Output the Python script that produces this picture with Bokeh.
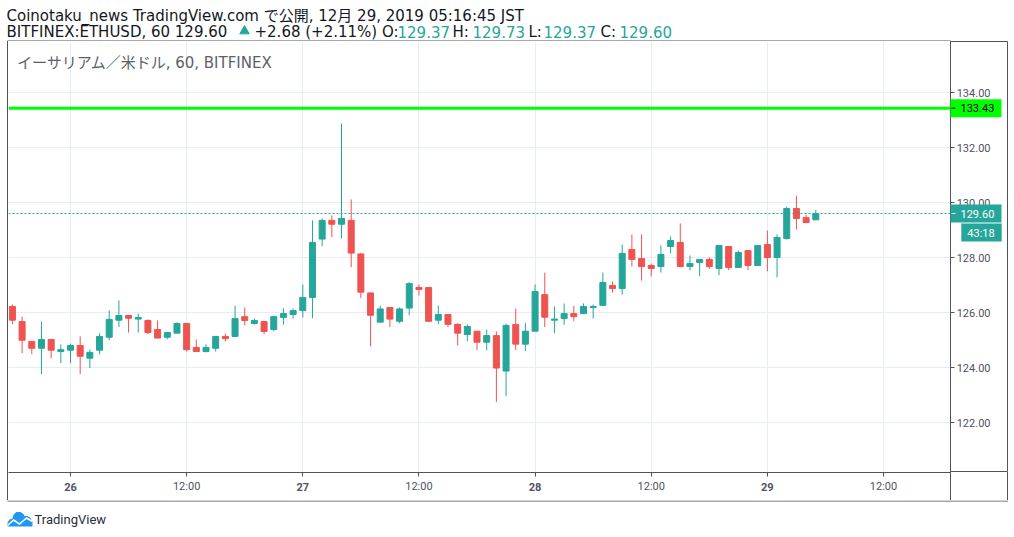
import pandas as pd
from bokeh.plotting import figure
from bokeh.layouts import column, row
from bokeh.models import (ColumnDataSource, Range1d, FixedTicker, PrintfTickFormatter,
                          Span, Label, Spacer, Grid, DatetimeAxis)
from bokeh.core.properties import value
from bokeh.embed import file_html
from bokeh.resources import INLINE

# ---------------- data (hourly ETH/USD candles, Bitfinex) ----------------
start_time = "2019-12-25 18:00"
opens = [126.22, 125.67, 124.95, 124.70, 125.02, 124.58, 124.63, 124.80, 124.34, 124.63,
         125.10, 125.72, 125.89, 125.76, 125.71, 125.38, 125.10, 125.25, 125.60, 124.73,
         124.58, 124.70, 125.13, 125.13, 125.85, 125.60, 125.67, 125.38, 125.82, 125.93,
         126.07, 126.55, 128.67, 129.35, 129.21, 129.35, 128.13, 126.71, 125.65, 126.18,
         125.68, 126.16, 126.91, 126.91, 125.72, 125.93, 125.57, 125.20, 125.32, 124.92,
         125.16, 123.87, 125.56, 124.85, 125.32, 126.65, 125.72, 125.78, 125.96, 125.96,
         126.18, 126.26, 126.98, 126.87, 128.29, 127.96, 127.71, 127.67, 128.40, 128.55,
         127.67, 127.82, 127.93, 127.60, 128.40, 127.64, 128.25, 127.71, 128.47, 128.00,
         128.69, 129.78, 129.45, 129.37]
highs = [126.29, 125.85, 124.95, 125.67, 125.02, 124.84, 124.87, 125.13, 124.65, 125.24,
         126.07, 126.44, 125.89, 125.96, 125.75, 125.71, 125.27, 125.64, 125.60, 125.02,
         124.84, 125.13, 125.24, 126.25, 126.18, 125.78, 125.67, 125.89, 126.15, 126.15,
         127.02, 129.35, 129.42, 129.53, 132.87, 130.11, 128.16, 126.74, 126.25, 126.18,
         126.18, 127.10, 127.02, 126.91, 126.25, 125.93, 125.61, 125.57, 125.32, 125.38,
         125.31, 125.60, 126.14, 125.61, 127.02, 127.45, 126.22, 126.33, 126.24, 126.33,
         126.29, 127.45, 127.13, 128.47, 128.84, 128.84, 127.78, 128.44, 128.76, 129.24,
         128.07, 127.93, 128.00, 128.44, 128.40, 128.25, 128.25, 128.44, 128.98, 128.84,
         129.85, 130.25, 129.56, 129.73]
lows = [125.58, 124.52, 124.48, 123.76, 124.34, 124.16, 124.16, 123.76, 123.98, 124.48,
        124.99, 125.47, 125.27, 125.27, 125.21, 125.07, 125.03, 125.25, 124.58, 124.58,
        124.55, 124.58, 124.95, 125.13, 125.53, 125.56, 125.21, 125.32, 125.56, 125.78,
        125.82, 125.79, 128.41, 128.74, 128.70, 127.65, 126.52, 124.77, 125.65, 125.47,
        125.61, 125.90, 126.62, 125.68, 125.57, 125.47, 124.80, 124.96, 124.63, 124.63,
        122.74, 122.96, 124.63, 124.60, 125.32, 125.47, 125.25, 125.55, 125.68, 125.96,
        125.78, 126.26, 126.73, 126.65, 127.67, 127.16, 127.31, 127.45, 128.15, 127.64,
        127.53, 127.32, 127.58, 127.36, 127.54, 127.64, 127.54, 127.71, 127.50, 127.28,
        128.65, 129.02, 129.25, 129.37]
closes = [125.72, 124.99, 124.70, 125.02, 124.63, 124.65, 124.80, 124.41, 124.55, 125.13,
          125.75, 125.89, 125.79, 125.82, 125.27, 125.07, 125.27, 125.60, 124.65, 124.58,
          124.73, 125.13, 125.05, 125.78, 125.71, 125.71, 125.31, 125.85, 125.96, 126.07,
          126.55, 128.55, 129.35, 129.21, 129.42, 128.16, 126.74, 125.90, 126.13, 125.76,
          126.13, 127.05, 126.84, 125.68, 125.93, 125.57, 125.25, 125.49, 124.92, 125.16,
          123.98, 125.53, 124.85, 125.32, 126.76, 125.83, 125.76, 125.96, 125.85, 126.22,
          126.22, 127.09, 126.87, 128.15, 127.93, 127.67, 127.60, 128.11, 128.62, 127.67,
          127.78, 127.93, 127.67, 128.44, 127.64, 128.18, 127.71, 128.44, 128.00, 128.73,
          129.78, 129.42, 129.27, 129.60]

price_ticks = [122, 124, 126, 128, 130, 132, 134]
time_ticks = ["2019-12-26 00:00", "2019-12-26 12:00", "2019-12-27 00:00", "2019-12-27 12:00",
              "2019-12-28 00:00", "2019-12-28 12:00", "2019-12-29 00:00", "2019-12-29 12:00"]
time_tick_labels = ["26", "12:00", "27", "12:00", "28", "12:00", "29", "12:00"]
alert_level = 133.43
last_price = 129.60
countdown = "43:18"

header_line1 = "Coinotaku_news TradingView.com で公開, 12月 29, 2019 05:16:45 JST"
header_parts = ["BITFINEX:ETHUSD, 60 129.60", "+2.68 (+2.11%) O:", "129.37", "H:", "129.73",
                "L:", "129.37", "C:", "129.60"]
header_kinds = ["dark", "dark", "up", "dark", "up", "dark", "up", "dark", "up"]
chart_title = "イーサリアム／米ドル, 60, BITFINEX"
brand = "TradingView"

# ---------------- styling ----------------
UP = "#26a69a"
DOWN = "#ef5350"
AXIS = "#50535e"
GRID = "#e6edf3"
DARK = "#131722"
ALERT = "#00ff00"
FONT = "Roboto, 'Noto Sans CJK JP', sans-serif"
HFONT = "'DejaVu Sans', 'Noto Sans CJK JP', sans-serif"
PAGE_W = 1008


def strip(height, y_top_page):
    f = figure(width=PAGE_W, height=height, x_range=Range1d(0, PAGE_W),
               y_range=Range1d(y_top_page + height, y_top_page),
               x_axis_location=None, y_axis_location=None, output_backend="svg",
               toolbar_location=None, min_border=0, title=None, outline_line_color=None)
    f.grid.visible = False
    return f


def vline(h):
    return Spacer(width=1, height=h, styles={"background-color": AXIS})


# ---------------- header strip (page y 0..41) ----------------
hd = strip(41, 0)
hd.text(x=[6], y=[15.5], text=[header_line1], text_color=DARK, text_font=value(HFONT),
        text_font_size=value("15px"), text_baseline="middle")
part_x = [6, 254, 397, 452, 472, 528, 543, 600, 619]
hd.text(x=part_x, y=[31.4] * len(part_x), text=header_parts,
        text_color=[UP if k == "up" else DARK for k in header_kinds],
        text_font=value(HFONT), text_font_size=value("15px"), text_baseline="middle")
hd.scatter(x=[244], y=[30.6], marker="triangle", size=9.5, fill_color=UP, line_color=UP)
hd.segment(x0=[7], y0=[40.5], x1=[950], y1=[40.5], line_color=AXIS, line_width=1)

# ---------------- main chart (page x 8..950, y 41..500) ----------------
HOUR = 3600 * 1000.0
times = pd.date_range(start_time, periods=len(opens), freq="h")
colors = [UP if c >= o else DOWN for o, c in zip(opens, closes)]
src = ColumnDataSource(dict(
    t=times, open=opens, high=highs, low=lows, close=closes,
    top=[max(o, c) for o, c in zip(opens, closes)],
    bottom=[min(o, c) for o, c in zip(opens, closes)],
    color=colors))

base = pd.Timestamp("2019-12-26 00:00").value / 1e6
px_per_hour = 9.679
FL, FR, FT, FB = 8, 950, 41, 472          # page coordinates of the plotting frame
ROW_H = 459                                # page y 41..500

x_range = Range1d(base + (FL - 70) / px_per_hour * HOUR, base + (FR - 70) / px_per_hour * HOUR)
y_range = Range1d(134 - (FB - 92) / 27.5, 134 + (92 - FT) / 27.5)

p = figure(width=FR - FL, height=ROW_H, x_axis_type="datetime", y_axis_location=None,
           x_range=x_range, y_range=y_range, output_backend="svg", toolbar_location=None,
           title=None, min_border_left=0, min_border_right=0, min_border_top=0,
           min_border_bottom=(FT + ROW_H) - FB, outline_line_color=None)
p.background_fill_color = "white"
p.border_fill_color = "white"

tick_ms = [pd.Timestamp(s).value / 1e6 for s in time_ticks]
day_ms = [t for t, lab in zip(tick_ms, time_tick_labels) if ":" not in lab]
ax = p.xaxis[0]
ax.ticker = FixedTicker(ticks=tick_ms)
ax.major_label_overrides = {t: (lab if ":" in lab else "") for t, lab in zip(tick_ms, time_tick_labels)}
ax.axis_line_color = AXIS
ax.major_tick_line_color = AXIS
ax.major_tick_out = 4
ax.major_tick_in = 0
ax.minor_tick_line_color = None
ax.major_label_text_font = FONT
ax.major_label_text_font_size = "11px"
ax.major_label_text_color = AXIS
ax.major_label_standoff = 3

# second (bold) label row for the day numbers, lifted onto the same line
day_axis = DatetimeAxis(ticker=FixedTicker(ticks=day_ms),
                        major_label_overrides={t: lab for t, lab in zip(tick_ms, time_tick_labels) if ":" not in lab},
                        axis_line_color=None, major_tick_line_color=None, minor_tick_line_color=None,
                        major_tick_out=0, major_tick_in=0, major_label_standoff=-13,
                        major_label_text_font=FONT, major_label_text_font_size="11px",
                        major_label_text_font_style="bold", major_label_text_color=AXIS)
p.add_layout(day_axis, "below")

p.xgrid.grid_line_color = GRID
p.add_layout(Grid(dimension=1, ticker=FixedTicker(ticks=price_ticks), grid_line_color=GRID))

w_body = 6 / px_per_hour * HOUR
p.segment(x0="t", y0="low", x1="t", y1="high", line_color="color", line_width=1, source=src)
p.vbar(x="t", width=w_body, top="top", bottom="bottom", fill_color="color",
       line_color="color", line_width=1, source=src)

p.add_layout(Span(location=alert_level, dimension="width", line_color=ALERT, line_width=3))
p.add_layout(Span(location=last_price, dimension="width", line_color=UP, line_width=1, line_dash="2 2"))
p.add_layout(Label(x=16.5 - FL, y=FB - 62.5, x_units="screen", y_units="screen", text=chart_title,
                   text_color="#5d606b", text_font=HFONT, text_font_size="15px",
                   text_baseline="middle"))

# ---------------- price scale (page x 950..1008) ----------------
PS_W = PAGE_W - FR
ps = figure(width=PS_W, height=FB - FT, x_range=Range1d(0, PS_W), y_range=y_range,
            x_axis_location=None, y_axis_location="left", output_backend="svg",
            toolbar_location=None, title=None, min_border=0, outline_line_color=AXIS)
ps.grid.visible = False
yax = ps.yaxis[0]
yax.ticker = FixedTicker(ticks=price_ticks)
yax.formatter = PrintfTickFormatter(format="%.2f")
yax.axis_line_color = AXIS
yax.major_tick_line_color = AXIS
yax.major_tick_out = 0
yax.major_tick_in = 4
yax.minor_tick_line_color = None
yax.major_label_text_font = FONT
yax.major_label_text_font_size = "11px"
yax.major_label_text_color = AXIS
yax.major_label_standoff = -40

box_src = ColumnDataSource(dict(
    y=[alert_level, last_price], fill=[ALERT, UP], ink=["black", "white"],
    text=[f"{alert_level:.2f}", f"{last_price:.2f}"]))
ps.rect(x=25.5, y="y", width=51, height=18, height_units="screen", fill_color="fill",
        line_color=None, source=box_src, level="overlay")
ps.segment(x0=1, y0="y", x1=5, y1="y", line_color="ink", line_width=1, source=box_src, level="overlay")
ps.text(x=10, y="y", text="text", text_color="ink", text_font=value(FONT),
        text_font_size=value("11px"), text_baseline="middle", source=box_src, level="overlay")
ps.add_layout(Label(x=31, y=last_price, y_offset=-19, text=countdown, text_color="white",
                    text_font=FONT, text_font_size="11px", text_align="center",
                    text_baseline="middle", background_fill_color=UP,
                    padding=dict(left=6, right=7, top=3, bottom=2)))

corner = row(vline(ROW_H - (FB - FT)), Spacer(width=PS_W - 2, height=ROW_H - (FB - FT)),
             vline(ROW_H - (FB - FT)), spacing=0)
right_col = column(ps, corner, spacing=0)
main_row = row(Spacer(width=7, height=ROW_H), vline(ROW_H), p, right_col, spacing=0)

# ---------------- footer strip (page y 500..535) ----------------
ft = strip(35, 500)
ft.segment(x0=[7], y0=[500.5], x1=[1007.5], y1=[500.5], line_color=AXIS, line_width=1)
cloud_x = [7, 7, 9, 12, 13, 16, 20, 23, 24, 27, 30, 32, 32]
cloud_y = [526, 522, 519, 518, 514, 511.5, 511.5, 513.5, 515.5, 515.5, 517.5, 521, 526]
ft.patch(x=cloud_x, y=cloud_y, fill_color="#2196f3", line_color=None)
zig_x = [7, 13, 19, 26, 32, 32, 26, 19, 13, 7]
zig_y = [524, 518.5, 522.5, 516.5, 520, 522, 518.5, 524.5, 520.5, 526]
ft.patch(x=zig_x, y=zig_y, fill_color="white", line_color=None)
ft.text(x=[34], y=[519], text=[brand], text_color="#2a2e39", text_font=value(FONT),
        text_font_size=value("13px"), text_baseline="middle")

layout = column(hd, main_row, ft, spacing=0)
open("out.html", "w").write(file_html(layout, INLINE))
